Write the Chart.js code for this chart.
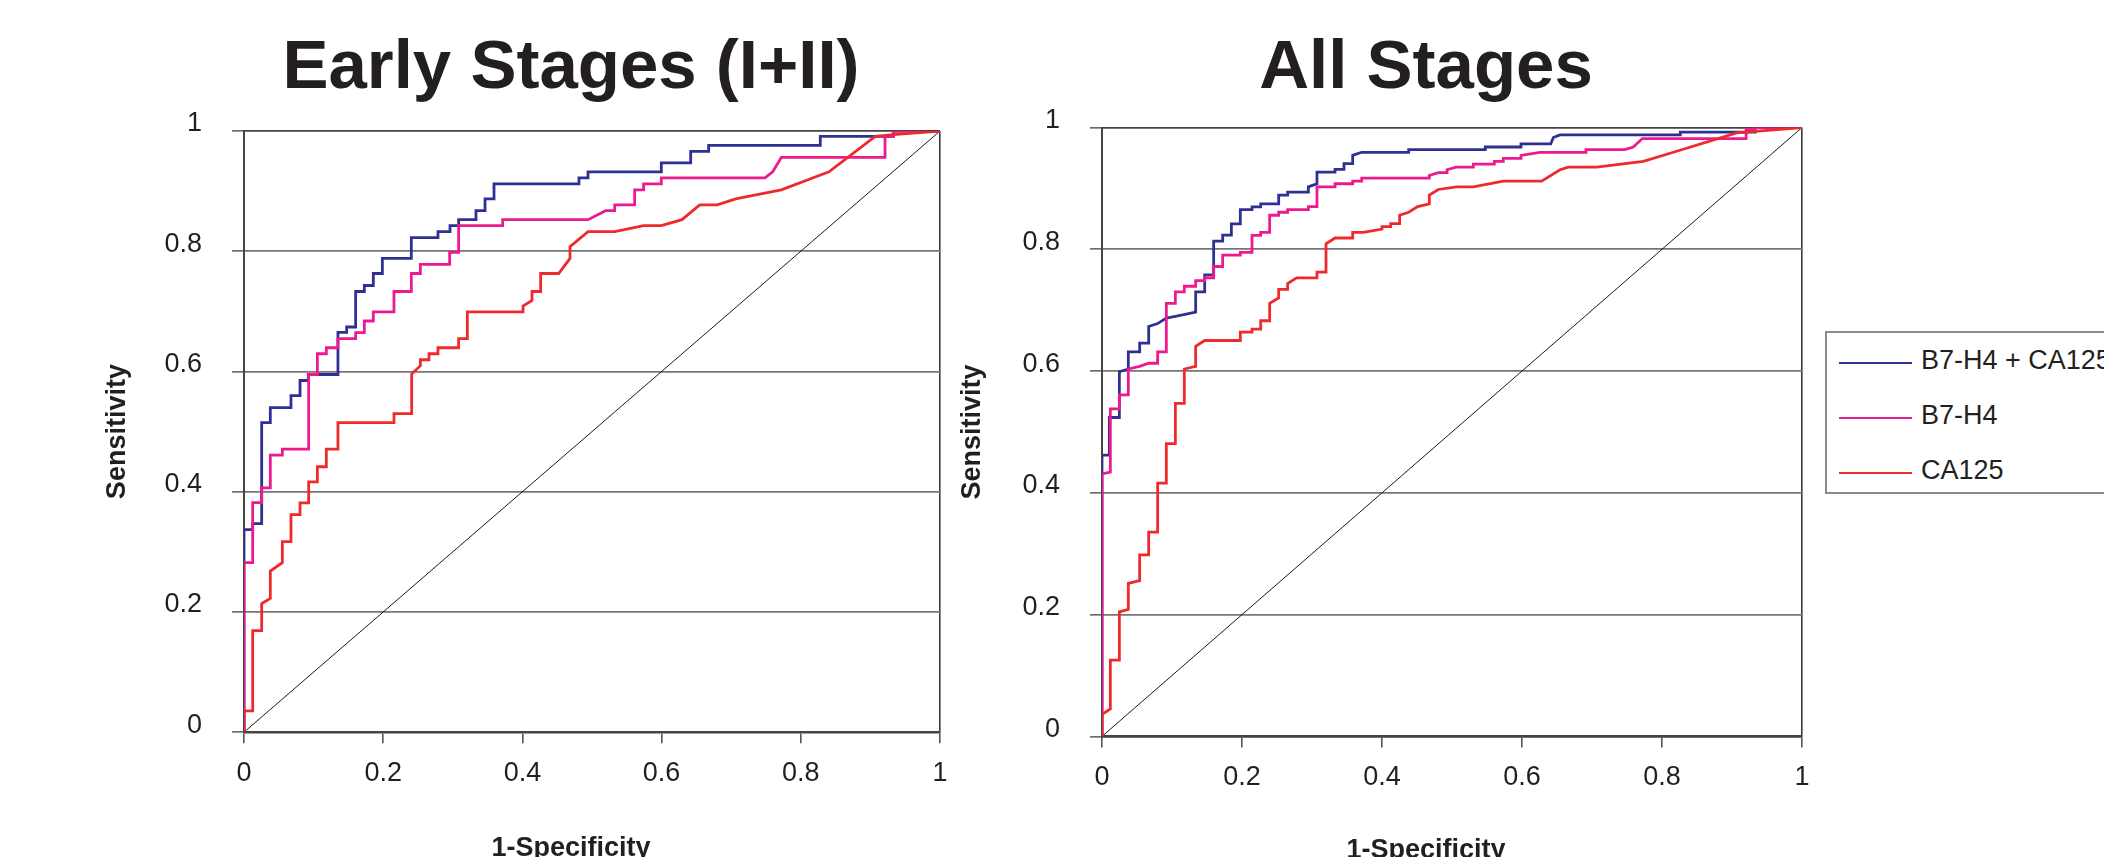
<!DOCTYPE html>
<html>
<head>
<meta charset="utf-8">
<title>ROC curves - B7-H4 and CA125</title>
<script src="https://cdn.jsdelivr.net/npm/chart.js@4.4.1/dist/chart.umd.min.js"></script>
<style>
  html, body { margin: 0; padding: 0; background: #fff; overflow: hidden; }
  #page { position: relative; width: 2104px; height: 857px; overflow: hidden; background: #fff; }
  canvas { position: absolute; top: 0; }
  #legend {
    position: absolute; left: 1825px; top: 331px; width: 340px; height: 159px;
    border: 2px solid #8a8a8a; background: #fff;
    font-family: "Liberation Sans", Arial, sans-serif; font-size: 27px; color: #231f20;
  }
  #legend .row { position: absolute; left: 0; height: 30px; white-space: nowrap; }
  #legend .swatch { position: absolute; left: 12px; width: 73px; height: 2px; }
  #legend .label { position: absolute; left: 94px; line-height: 30px; }
</style>
</head>
<body>
<div id="page">
  <canvas id="earlyChart" width="1142" height="875" style="left:0px"></canvas>
  <canvas id="allChart" width="1132" height="877" style="left:860px"></canvas>
  <div id="legend"></div>
</div>
<script>
// --- data (x = 1-specificity, y = sensitivity) ---
const seriesNames = ['B7-H4 + CA125', 'B7-H4', 'CA125'];
const seriesColors = ['#2e3192', '#ec1a8e', '#ef2a2c'];
const tickValues = [0, 0.2, 0.4, 0.6, 0.8, 1];
const tickLabels = ['0', '0.2', '0.4', '0.6', '0.8', '1'];
const diagonal = [[0, 0], [1, 1]];

// Early stages (I+II)
const earlyCombo = [[0,0],[0,0.337],[0.0125,0.337],[0.0125,0.347],[0.0254,0.347],[0.0254,0.515],[0.0378,0.515],[0.0378,0.54],
  [0.0675,0.54],[0.0675,0.56],[0.0805,0.56],[0.0805,0.585],[0.0924,0.585],[0.0924,0.595],[0.135,0.595],[0.135,0.665],
  [0.1475,0.665],[0.1475,0.674],[0.1604,0.674],[0.1604,0.733],[0.1729,0.733],[0.1729,0.743],[0.1858,0.743],[0.1858,0.763],
  [0.1988,0.763],[0.1988,0.788],[0.2404,0.788],[0.2404,0.8225],[0.2787,0.8225],[0.2787,0.8325],[0.296,0.8325],[0.296,0.8425],
  [0.3084,0.8425],[0.3084,0.8525],[0.3333,0.8525],[0.3333,0.8675],[0.3463,0.8675],[0.3463,0.887],[0.3592,0.887],[0.3592,0.912],
  [0.4813,0.912],[0.4813,0.922],[0.4943,0.922],[0.4943,0.932],[0.5996,0.932],[0.5996,0.947],[0.6418,0.947],[0.6418,0.966],
  [0.6676,0.966],[0.6676,0.976],[0.828,0.976],[0.828,0.991],[0.933,0.991],[0.933,1],[1,1]];
const earlyB7 = [[0,0],[0,0.282],[0.0125,0.282],[0.0125,0.382],[0.0254,0.382],[0.0254,0.4065],[0.0378,0.4065],[0.0378,0.461],
  [0.0551,0.461],[0.0551,0.471],[0.0929,0.471],[0.0929,0.595],[0.1054,0.595],[0.1054,0.6295],[0.1183,0.6295],[0.1183,0.6395],
  [0.135,0.6395],[0.135,0.6545],[0.1604,0.6545],[0.1604,0.6645],[0.1729,0.6645],[0.1729,0.684],[0.1858,0.684],[0.1858,0.699],
  [0.2155,0.699],[0.2155,0.733],[0.2404,0.733],[0.2404,0.763],[0.2534,0.763],[0.2534,0.778],[0.2955,0.778],[0.2955,0.798],
  [0.3084,0.798],[0.3084,0.8425],[0.3716,0.8425],[0.3716,0.8525],[0.4943,0.8525],[0.5196,0.8675],[0.5326,0.8675],[0.5326,0.877],
  [0.5613,0.877],[0.5613,0.902],[0.5742,0.902],[0.5742,0.912],[0.5996,0.912],[0.5996,0.922],[0.7486,0.922],[0.7596,0.932],
  [0.772,0.956],[0.921,0.956],[0.921,0.991],[0.933,0.991],[0.933,1],[1,1]];
const earlyCA125 = [[0,0],[0,0.0355],[0.0125,0.0355],[0.0125,0.169],[0.0254,0.169],[0.0254,0.214],[0.0378,0.2224],[0.0378,0.268],
  [0.0551,0.282],[0.0551,0.317],[0.0675,0.317],[0.0675,0.362],[0.0805,0.362],[0.0805,0.3816],[0.0929,0.3816],[0.0929,0.4165],
  [0.1054,0.4165],[0.1054,0.4415],[0.1183,0.4415],[0.1183,0.471],[0.135,0.471],[0.135,0.515],[0.2155,0.515],[0.2155,0.53],
  [0.2409,0.53],[0.2409,0.5957],[0.2534,0.6095],[0.2534,0.6195],[0.2658,0.6195],[0.2658,0.6295],[0.2787,0.6295],[0.2787,0.6395],
  [0.3084,0.6395],[0.3084,0.6545],[0.3209,0.6545],[0.3209,0.699],[0.4009,0.699],[0.4009,0.709],[0.4138,0.718],[0.4138,0.733],
  [0.4262,0.733],[0.4262,0.763],[0.4521,0.763],[0.4684,0.788],[0.4684,0.8075],[0.4943,0.8325],[0.5326,0.8325],[0.5742,0.8425],
  [0.5996,0.8425],[0.6293,0.8525],[0.6547,0.877],[0.6801,0.877],[0.7064,0.887],[0.772,0.902],[0.8405,0.932],[0.907,0.991],
  [0.933,0.994],[1,1]];

// All stages
const allCombo = [[0,0],[0,0.462],[0.0105,0.462],[0.0105,0.5237],[0.0248,0.5237],[0.0248,0.599],[0.0376,0.6034],[0.0376,0.6315],
  [0.0538,0.6315],[0.0538,0.6458],[0.0667,0.6458],[0.0667,0.6733],[0.0795,0.678],[0.0919,0.687],[0.1048,0.69],[0.1338,0.697],
  [0.1338,0.73],[0.1467,0.73],[0.1467,0.758],[0.1595,0.758],[0.1595,0.8135],[0.1724,0.8135],[0.1724,0.8234],[0.1848,0.8234],
  [0.1848,0.8416],[0.1976,0.8416],[0.1976,0.8652],[0.2143,0.8652],[0.2143,0.8696],[0.2267,0.8696],[0.2267,0.8746],[0.2524,0.8746],
  [0.2524,0.8889],[0.2652,0.8889],[0.2652,0.8938],[0.2948,0.8938],[0.2948,0.9026],[0.3071,0.9075],[0.3071,0.9268],[0.3329,0.9268],
  [0.3329,0.9312],[0.3457,0.9312],[0.3457,0.9406],[0.3581,0.9406],[0.3581,0.9543],[0.371,0.9593],[0.4381,0.9593],[0.4381,0.9637],
  [0.5476,0.9637],[0.5476,0.968],[0.5986,0.968],[0.5986,0.973],[0.641,0.973],[0.6448,0.9835],[0.6543,0.9879],[0.8262,0.9879],
  [0.8262,0.9923],[0.9329,0.9923],[0.9329,1],[1,1]];
const allB7 = [[0,0],[0,0.431],[0.0119,0.434],[0.0119,0.538],[0.0248,0.538],[0.0248,0.561],[0.0376,0.561],[0.0376,0.6034],
  [0.0538,0.6078],[0.0667,0.6128],[0.0795,0.6128],[0.0795,0.6315],[0.0919,0.6315],[0.0919,0.7112],[0.1048,0.7112],[0.1048,0.73],
  [0.1176,0.73],[0.1176,0.7393],[0.1338,0.7393],[0.1338,0.7486],[0.1467,0.7486],[0.1467,0.753],[0.1595,0.753],[0.1595,0.7717],
  [0.1724,0.7717],[0.1724,0.7904],[0.1976,0.7904],[0.1976,0.7948],[0.2143,0.7948],[0.2143,0.8229],[0.2267,0.8229],[0.2267,0.8278],
  [0.2395,0.8278],[0.2395,0.8559],[0.2524,0.8559],[0.2524,0.8608],[0.2652,0.8608],[0.2652,0.8652],[0.2948,0.8652],[0.2948,0.8702],
  [0.3071,0.8702],[0.3071,0.9026],[0.3329,0.9026],[0.3329,0.9076],[0.3581,0.9076],[0.3581,0.912],[0.371,0.912],[0.371,0.9169],
  [0.4676,0.9169],[0.4676,0.9213],[0.4805,0.926],[0.4929,0.926],[0.4929,0.9307],[0.5057,0.935],[0.5305,0.935],[0.5305,0.94],
  [0.5605,0.94],[0.5605,0.9444],[0.5733,0.9444],[0.5733,0.9494],[0.5986,0.9494],[0.5986,0.9543],[0.6257,0.9593],[0.6914,0.9593],
  [0.6914,0.9637],[0.747,0.9637],[0.759,0.968],[0.7719,0.9818],[0.9202,0.9818],[0.9202,0.9967],[0.9329,0.9967],[0.9329,1],[1,1]];
const allCA125 = [[0,0],[0,0.0363],[0.0119,0.0451],[0.0119,0.1254],[0.0248,0.1254],[0.0248,0.2046],[0.0376,0.2085],[0.0376,0.2514],
  [0.0538,0.2558],[0.0538,0.2981],[0.0667,0.2981],[0.0667,0.3355],[0.0795,0.3355],[0.0795,0.4158],[0.0919,0.4158],[0.0919,0.4807],
  [0.1048,0.4807],[0.1048,0.5468],[0.1176,0.5468],[0.1176,0.6034],[0.1338,0.6078],[0.1338,0.6408],[0.1467,0.6502],[0.1976,0.6502],
  [0.1976,0.6639],[0.2143,0.6639],[0.2143,0.6689],[0.2267,0.6689],[0.2267,0.6826],[0.2395,0.6826],[0.2395,0.7112],[0.2524,0.72],
  [0.2524,0.7343],[0.2652,0.7343],[0.2652,0.7437],[0.2781,0.753],[0.3071,0.753],[0.3071,0.7624],[0.32,0.7624],[0.32,0.8091],
  [0.3329,0.8185],[0.3581,0.8185],[0.3581,0.8278],[0.3733,0.8278],[0.4,0.8333],[0.4,0.8372],[0.4124,0.8372],[0.4124,0.8421],
  [0.4252,0.8421],[0.4252,0.8559],[0.4381,0.8608],[0.451,0.8702],[0.4676,0.8746],[0.4676,0.8889],[0.4805,0.8982],[0.5067,0.9026],
  [0.5305,0.9026],[0.5733,0.912],[0.628,0.912],[0.6543,0.9307],[0.6662,0.935],[0.7067,0.935],[0.7733,0.9444],[0.821,0.961],
  [0.9067,0.9912],[1,1]];

const FONT = '"Liberation Sans", Arial, Helvetica, sans-serif';

function toXY(pairs) {
    return pairs.map(p => ({ x: p[0], y: p[1] }));
}

function rocDataset(name, color, pairs, order) {
    return {
        label: name,
        data: toXY(pairs),
        borderColor: color,
        borderWidth: 2.8,
        pointRadius: 0,
        tension: 0,
        fill: false,
        order: order
    };
}

// g holds the layout numbers of one panel (pixel sizes of the boxes around the plot)
function makeRoc(canvasId, titleText, curves, g) {
    const datasets = curves.map((c, i) => rocDataset(seriesNames[i], seriesColors[i], c, i === 0 ? 3 : (i === 1 ? 2 : 1)));
    datasets.push({
        label: 'reference',
        data: toXY(diagonal),
        borderColor: '#1a1a1a',
        borderWidth: 1,
        pointRadius: 0,
        fill: false,
        order: 4
    });

    return new Chart(document.getElementById(canvasId), {
        type: 'line',
        data: { datasets: datasets },
        options: {
            responsive: false,
            animation: false,
            events: [],
            layout: { padding: 0 },
            plugins: {
                legend: { display: false },
                tooltip: { enabled: false },
                title: {
                    display: true,
                    text: titleText,
                    color: '#231f20',
                    font: { family: FONT, size: 69, weight: 'bold' },
                    padding: { top: 27.6, bottom: g.titleBottom }
                },
                subtitle: {
                    display: true,
                    position: 'bottom',
                    text: '1-Specificity',
                    color: '#231f20',
                    font: { family: FONT, size: 27, weight: 'bold' },
                    padding: { top: g.subTop, bottom: 10 }
                }
            },
            scales: {
                x: {
                    type: 'linear',
                    min: 0,
                    max: 1,
                    afterBuildTicks: s => { s.ticks = tickValues.map(v => ({ value: v })); },
                    afterFit: s => { s.height = 60; },
                    ticks: {
                        callback: (v, i) => tickLabels[i],
                        color: '#231f20',
                        font: { family: FONT, size: 27 },
                        padding: 14,
                        maxRotation: 0
                    },
                    grid: {
                        color: c => (c.tick && c.tick.value === 1) ? '#3a3a3a' : 'rgba(0,0,0,0)',
                        lineWidth: 1.6,
                        tickLength: 11,
                        tickColor: '#555',
                        tickWidth: 1.6
                    },
                    border: { color: '#444', width: 2.5 }
                },
                y: {
                    type: 'linear',
                    min: 0,
                    max: 1,
                    afterBuildTicks: s => { s.ticks = tickValues.map(v => ({ value: v })); },
                    afterFit: s => { s.width = g.yWidth; },
                    ticks: {
                        callback: (v, i) => tickLabels[i],
                        color: '#231f20',
                        font: { family: FONT, size: 27 },
                        padding: 30,
                        labelOffset: -7
                    },
                    grid: {
                        color: c => (c.tick && c.tick.value === 1) ? '#444' : '#767676',
                        lineWidth: 1.7,
                        tickLength: 12,
                        tickColor: '#666',
                        tickWidth: 1.6
                    },
                    border: { color: '#444', width: 2 },
                    title: {
                        display: true,
                        text: 'Sensitivity',
                        color: '#231f20',
                        font: { family: FONT, size: 27, weight: 'bold' },
                        padding: { top: g.yTitleTop, bottom: 0 }
                    }
                },
                // empty box on the right so the panel title centres like the original
                y2: {
                    type: 'linear',
                    position: 'right',
                    display: true,
                    grid: { display: false },
                    ticks: { display: false },
                    border: { display: false },
                    afterFit: s => { s.width = g.rightWidth; }
                }
            }
        }
    });
}

makeRoc('earlyChart', 'Early Stages (I+II)', [earlyCombo, earlyB7, earlyCA125],
    { titleBottom: 20.6, subTop: 40.4, yWidth: 244, yTitleTop: 101.8, rightWidth: 202 });

makeRoc('allChart', 'All Stages', [allCombo, allB7, allCA125],
    { titleBottom: 17.1, subTop: 38.2, yWidth: 242, yTitleTop: 96.8, rightWidth: 190 });

// --- legend, built from the same series arrays ---
const legend = document.getElementById('legend');
seriesNames.forEach((name, i) => {
    const row = document.createElement('div');
    row.className = 'row';
    row.style.top = (12 + i * 55) + 'px';
    row.innerHTML = '<div class="swatch" style="top:17px;background:' + seriesColors[i] + '"></div>' +
                    '<div class="label">' + name + '</div>';
    legend.appendChild(row);
});
</script>
</body>
</html>
